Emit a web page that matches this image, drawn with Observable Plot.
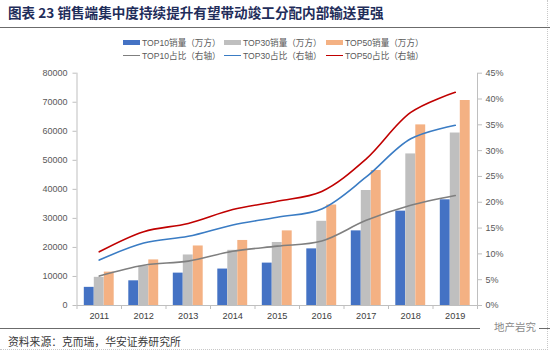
<!DOCTYPE html>
<html>
<head>
<meta charset="utf-8">
<script src="https://cdn.jsdelivr.net/npm/d3@7"></script>
<script src="https://cdn.jsdelivr.net/npm/@observablehq/plot@0.6"></script>
<style>
  body { margin:0; background:#fff; }
  #page { position:relative; width:550px; height:352px; overflow:hidden; background:#fff; font-family:"Liberation Sans", Arial, "Noto Sans CJK SC", sans-serif; }
  .abs { position:absolute; }
  #title { left:8px; top:3px; font-family:"Noto Sans CJK SC", sans-serif; font-weight:700; font-size:13.6px; color:#1f2d5a; white-space:nowrap; line-height:18px; }
  #rule1 { left:0; top:27px; width:550px; height:1.3px; background:#6b6b6b; }
  #rule2 { left:0; top:328px; width:550px; height:1.3px; background:#6b6b6b; }
  .lg { position:absolute; font-size:8.6px; color:#595959; white-space:nowrap; line-height:10px; font-family:"Liberation Sans", Arial, "Noto Sans CJK SC", sans-serif; }
  .sw { position:absolute; }
  #source { left:8px; top:333px; font-family:"Noto Sans CJK SC", sans-serif; font-size:10.8px; color:#3a3a3a; white-space:nowrap; line-height:16px; }
  #wm { left:480px; top:319px; font-family:"Noto Sans CJK SC", sans-serif; font-size:10.5px; color:#8a8a8a; background:#fff; padding:0 3px 0 14px; line-height:15px; }
  #chart { left:0; top:62px; }
  #border { left:0; top:0; width:547px; height:349px; border-right:1px dotted #c8c8c8; border-bottom:1px dotted #c8c8c8; }
</style>
</head>
<body>
<div id="page">
  <div id="border" class="abs"></div>
  <div id="title" class="abs"></div>
  <div id="rule1" class="abs"></div>
  <div id="legend"></div>
  <div id="chart" class="abs"></div>
  <div id="rule2" class="abs"></div>
  <div id="source" class="abs"></div>
  <div id="wm" class="abs">地产岩究</div>
</div>
<script>
// ---- data ----
const years = [2011, 2012, 2013, 2014, 2015, 2016, 2017, 2018, 2019];
const top10Sales = [6250, 8500, 11150, 12550, 14600, 19500, 25700, 32500, 36400];
const top30Sales = [9700, 13600, 17400, 19000, 21700, 29000, 39600, 52200, 59400];
const top50Sales = [11500, 15700, 20500, 22400, 25700, 34600, 46500, 62200, 70600];
const top10Share = [5.7, 7.8, 8.6, 10.5, 11.5, 12.5, 16.5, 19.4, 21.3];
const top30Share = [8.8, 12.1, 13.4, 15.6, 17.1, 18.7, 24.9, 32.3, 34.9];
const top50Share = [10.4, 14.3, 15.9, 18.6, 20.2, 22.1, 28.4, 37.4, 41.3];
const leftTicks = [0, 10000, 20000, 30000, 40000, 50000, 60000, 70000, 80000];
const rightTicks = [0, 5, 10, 15, 20, 25, 30, 35, 40, 45];
const leftMax = 80000;
const rightMax = 45;
const titleText = "图表 23 销售端集中度持续提升有望带动竣工分配内部输送更强";
const sourceText = "资料来源：克而瑞，华安证券研究所";
const barSeries = [
  {name: "TOP10销量（万方）", values: top10Sales, color: "#4472c4", dx: -10},
  {name: "TOP30销量（万方）", values: top30Sales, color: "#bfbfbf", dx: 0},
  {name: "TOP50销量（万方）", values: top50Sales, color: "#f4b183", dx: 10}
];
const lineSeries = [
  {name: "TOP10占比（右轴）", values: top10Share, color: "#7f7f7f"},
  {name: "TOP30占比（右轴）", values: top30Share, color: "#3a7cc4"},
  {name: "TOP50占比（右轴）", values: top50Share, color: "#c00000"}
];

document.getElementById("title").textContent = titleText;
document.getElementById("source").textContent = sourceText;

// ---- legend ----
const legend = document.getElementById("legend");
const legendX = [123, 224, 326];
barSeries.forEach((s, i) => {
  const sw = document.createElement("div");
  sw.className = "sw";
  Object.assign(sw.style, {left: legendX[i] + "px", top: "40px", width: "17px", height: "5px", background: s.color});
  legend.appendChild(sw);
  const t = document.createElement("div");
  t.className = "lg";
  Object.assign(t.style, {left: (legendX[i] + 19) + "px", top: "37.5px"});
  t.textContent = s.name;
  legend.appendChild(t);
});
lineSeries.forEach((s, i) => {
  const sw = document.createElement("div");
  sw.className = "sw";
  Object.assign(sw.style, {left: legendX[i] + "px", top: "54.5px", width: "17px", height: "1.6px", background: s.color});
  legend.appendChild(sw);
  const t = document.createElement("div");
  t.className = "lg";
  Object.assign(t.style, {left: (legendX[i] + 19) + "px", top: "50.5px"});
  t.textContent = s.name;
  legend.appendChild(t);
});

// ---- chart ----
const xDomain = [years[0] - 0.5, years[years.length - 1] + 0.5];
const bounds = d3.range(xDomain[0], xDomain[1] + 0.01, 1);
const toLeft = p => p / rightMax * leftMax;

const barMarks = barSeries.map(s =>
  Plot.rectY(years.map((y, i) => ({year: y, v: s.values[i]})), {
    x1: d => d.year - 0.5,
    x2: d => d.year + 0.5,
    y: "v",
    fill: s.color,
    insetLeft: 17.3,
    insetRight: 17.3,
    dx: s.dx
  })
);
const lineMarks = lineSeries.map(s =>
  Plot.line(years.map((y, i) => ({year: y, p: s.values[i]})), {
    x: "year",
    y: d => toLeft(d.p),
    stroke: s.color,
    strokeWidth: 1.6,
    curve: "catmull-rom"
  })
);

const chart = Plot.plot({
  width: 550,
  height: 265,
  marginLeft: 76.5,
  marginRight: 73,
  marginTop: 10.7,
  marginBottom: 22,
  style: {fontFamily: "'Liberation Sans', Arial, sans-serif", fontSize: "9px", background: "transparent"},
  x: {domain: xDomain, axis: null},
  y: {domain: [0, leftMax], axis: null},
  marks: [
    ...barMarks,
    ...lineMarks,
    Plot.ruleY([0], {stroke: "#bfbfbf"}),
    Plot.ruleX(xDomain, {stroke: "#bfbfbf"}),
    Plot.axisY(leftTicks, {anchor: "left", tickFormat: d3.format("d"), tickSize: 4, tickPadding: 5.5, stroke: "#bfbfbf", fill: "#595959", label: null, fontSize: 9}),
    Plot.axisY(rightTicks.map(toLeft), {anchor: "right", tickFormat: v => Math.round(v / leftMax * rightMax) + "%", tickSize: 4, tickPadding: 4, stroke: "#bfbfbf", fill: "#595959", label: null, fontSize: 9}),
    Plot.axisX(bounds, {anchor: "bottom", tickSize: 4, tickFormat: () => "", stroke: "#bfbfbf", label: null}),
    Plot.axisX(years, {anchor: "bottom", tickSize: 0, tickPadding: 6.5, tickFormat: d3.format("d"), fill: "#404040", label: null, fontSize: 9.2})
  ]
});
document.getElementById("chart").appendChild(chart);
</script>
</body>
</html>
